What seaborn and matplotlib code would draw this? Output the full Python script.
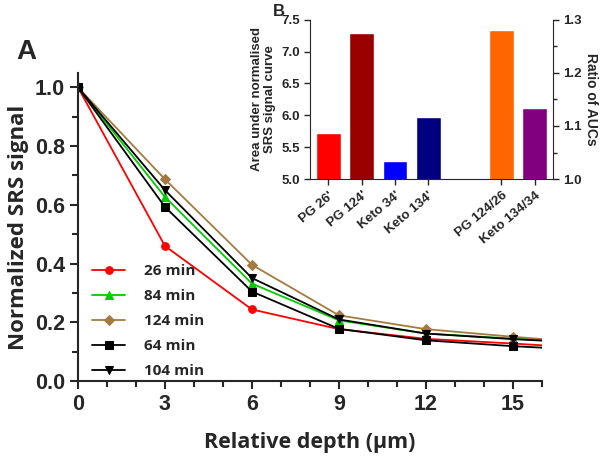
import numpy as np
import pandas as pd
import matplotlib.pyplot as plt
import matplotlib as mpl
import seaborn as sns

sns.set_style('ticks')
mpl.rcParams['font.family'] = ['Liberation Sans', 'DejaVu Sans']
mpl.rcParams['font.weight'] = 'bold'

# panel A data (last point lies past the axis edge and is clipped)
depth = [0, 3, 6, 9, 12, 15, 18]
sig_26 = [1.0, 0.46, 0.244, 0.177, 0.144, 0.128, 0.110]
sig_84 = [1.0, 0.627, 0.332, 0.207, 0.162, 0.145, 0.130]
sig_124 = [1.0, 0.687, 0.396, 0.224, 0.177, 0.151, 0.128]
sig_64 = [1.0, 0.593, 0.305, 0.178, 0.139, 0.119, 0.104]
sig_104 = [1.0, 0.650, 0.351, 0.210, 0.162, 0.143, 0.128]
series_names = ['26 min', '84 min', '124 min', '64 min', '104 min']
series_colors = ['#ff0000', '#00cc00', '#a57a3e', '#000000', '#000000']
series_markers = ['o', '^', 'D', 's', 'v']

# panel B data
auc_labels = ["PG 26'", "PG 124'", "Keto 34'", "Keto 134'"]
auc_values = [5.72, 7.29, 5.28, 5.97]
auc_colors = ['#ff0000', '#990000', '#0000ff', '#000080']
ratio_labels = ['PG 124/26', 'Keto 134/34']
ratio_values = [1.28, 1.134]
ratio_colors = ['#ff6600', '#800080']

rows = []
for name, vals in zip(series_names, [sig_26, sig_84, sig_124, sig_64, sig_104]):
    for d, v in zip(depth, vals):
        rows.append({'depth': d, 'signal': v, 'series': name})
df = pd.DataFrame(rows)

fig = plt.figure(figsize=(6, 4.57), dpi=100)
ax = fig.add_axes([0.13, 0.166, 0.773, 0.675])
sns.lineplot(data=df, x='depth', y='signal', hue='series', style='series',
             hue_order=series_names, style_order=series_names,
             palette=dict(zip(series_names, series_colors)),
             markers=dict(zip(series_names, series_markers)),
             dashes=False, markersize=5.5, linewidth=1.3,
             ax=ax, legend=True)
for ln in ax.lines:
    ln.set_markeredgecolor(ln.get_color())
ax.set_xlim(0, 16)
ax.set_ylim(0, 1.05)
ax.set_xticks([0, 3, 6, 9, 12, 15])
ax.set_xticks(np.arange(0, 17, 1), minor=True)
ax.set_yticks([0.0, 0.2, 0.4, 0.6, 0.8, 1.0])
ax.set_yticks(np.arange(0, 1.05, 0.1), minor=True)
ax.set_yticklabels(['0.0', '0.2', '0.4', '0.6', '0.8', '1.0'])
ax.tick_params(which='major', length=6, width=1.5, labelsize=15.5)
ax.tick_params(which='minor', length=4, width=1.5)
for t in ax.get_xticklabels() + ax.get_yticklabels():
    t.set_fontweight('bold')
for s in ['left', 'bottom']:
    ax.spines[s].set_linewidth(1.5)
sns.despine(ax=ax)
ax.set_xlabel('Relative depth (\u03bcm)', fontsize=15.5, fontweight='bold',
              family=['Open Sans', 'DejaVu Sans'])
ax.set_ylabel('Normalized SRS signal', fontsize=16, fontweight='bold',
              family=['Open Sans', 'DejaVu Sans'])
ax.xaxis.set_label_coords(0.5, -0.165)
ax.yaxis.set_label_coords(-0.105, 0.5)
leg = ax.legend(loc='lower left', bbox_to_anchor=(0.0, -0.035), frameon=False,
                prop={'family': 'Open Sans', 'weight': 'bold', 'size': 11},
                handlelength=2.2, labelspacing=0.72, handletextpad=1.2)
fig.text(0.028, 0.87, 'A', fontsize=20, fontweight='bold')

# inset B
axb = fig.add_axes([0.517, 0.608, 0.404, 0.349])
sns.barplot(x=[0, 1, 2, 3], y=auc_values, hue=auc_labels, palette=auc_colors,
            native_scale=True, dodge=False, width=0.74, legend=False,
            saturation=1, ax=axb)
axb.set_ylim(5.0, 7.5)
axb.set_xlim(-0.55, 6.74)
axb.set_yticks([5.0, 5.5, 6.0, 6.5, 7.0, 7.5])
axr = axb.twinx()
sns.barplot(x=[5.2, 6.2], y=ratio_values, hue=ratio_labels, palette=ratio_colors,
            native_scale=True, dodge=False, width=0.74, legend=False,
            saturation=1, ax=axr)
axr.set_ylim(1.0, 1.3)
axr.set_xlim(-0.55, 6.74)
axr.set_yticks([1.0, 1.1, 1.2, 1.3])
axr.set_yticks(np.arange(1.0, 1.31, 0.05), minor=True)
axb.set_xticks([0, 1, 2, 3, 5.2, 6.2])
axb.set_xticklabels(auc_labels + ratio_labels, rotation=40, ha='right',
                    rotation_mode='anchor', fontsize=9, fontweight='bold')
for a in [axb, axr]:
    a.tick_params(labelsize=9.5, width=1, length=4)
    for t in a.get_yticklabels():
        t.set_fontweight('bold')
    for s in a.spines.values():
        s.set_visible(False)
axr.tick_params(which='minor', length=3, width=1)
axb.spines['left'].set_visible(True)
axb.spines['bottom'].set_visible(True)
axr.spines['right'].set_visible(True)
axb.set_ylabel('Area under normalised\nSRS signal curve', fontsize=9.5,
               fontweight='bold', linespacing=1.1)
axr.set_ylabel('Ratio of AUCs', fontsize=10, fontweight='bold', rotation=270,
               labelpad=12)
fig.text(0.455, 0.975, 'B', fontsize=12, fontweight='bold', va='center')

fig.savefig('out.png', dpi=100)
